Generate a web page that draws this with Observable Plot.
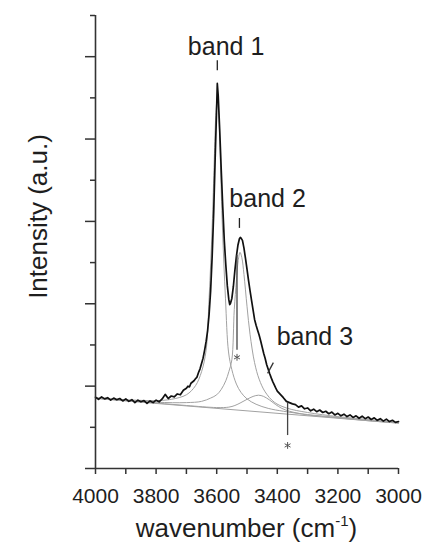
<!DOCTYPE html>
<html><head><meta charset="utf-8">
<script src="https://cdn.jsdelivr.net/npm/d3@7"></script>
<script src="https://cdn.jsdelivr.net/npm/@observablehq/plot@0.6"></script>
<style>body{margin:0;background:#fff;} svg{display:block}</style>
</head><body><div id="chart"></div>
<script>
// measured spectrum
const wavenumber = [4000,3990,3980,3970,3960,3950,3940,3930,3920,3910,3900,3890,3880,3870,3860,3850,3840,3830,3820,3810,3800,3790,3780,3770,3760,3750,3740,3730,3720,3710,
3700,3695,3690,3685,3680,3675,3670,3665,3660,3655,3650,3645,3640,3635,3630,3625,3620,3615,3610,3605,3600,3598,3595,3590,3585,3580,3575,3570,3565,3560,3557,3555,3550,3545,3540,3535,3530,3525,3522,3520,3515,3510,3505,3500,3495,3490,3485,3480,3475,3470,3465,3460,3455,3450,3445,3440,3435,3430,3425,3420,3415,3410,3405,3400,
3390,3380,3370,3360,3350,3340,3330,3320,3310,3300,3290,3280,3270,3260,3250,3240,3230,3220,3210,3200,3190,3180,3170,3160,3150,3140,3130,3120,3110,3100,3090,3080,3070,3060,3050,3040,3030,3020,3010,3000];
const intensity = [1.73,1.68,1.74,1.69,1.72,1.66,1.71,1.67,1.70,1.64,1.69,1.63,1.67,1.60,1.66,1.62,1.65,1.58,1.64,1.60,1.66,1.62,1.69,1.80,1.70,1.76,1.74,1.81,1.79,1.90,
1.95,2.00,1.98,2.07,2.10,2.13,2.18,2.22,2.33,2.42,2.55,2.68,2.87,3.08,3.35,3.75,4.32,5.15,6.20,7.55,8.80,9.35,9.05,8.20,7.24,6.35,5.54,4.95,4.44,4.10,3.98,4.00,4.13,4.42,4.81,5.15,5.42,5.58,5.61,5.60,5.54,5.35,5.10,4.84,4.57,4.32,4.08,3.85,3.62,3.48,3.36,3.24,3.10,2.95,2.80,2.67,2.52,2.41,2.30,2.20,2.11,2.03,1.95,1.88,
1.80,1.72,1.63,1.60,1.57,1.55,1.49,1.52,1.45,1.47,1.40,1.44,1.38,1.42,1.36,1.39,1.33,1.37,1.30,1.34,1.28,1.32,1.26,1.30,1.24,1.28,1.22,1.27,1.21,1.25,1.19,1.23,1.17,1.21,1.15,1.20,1.14,1.17,1.12,1.14];

// fitted components
const band1Wn  = [4000,3900,3800,3750,3700,3670,3650,3635,3625,3615,3608,3603,3598,3593,3588,3581,3571,3561,3550,3535,3520,3500,3470,3430,3380,3300,3200,3100,3000];
const band1Val = [1.72,1.67,1.65,1.68,1.79,2.01,2.35,2.87,4.15,5.86,7.50,8.57,9.01,8.57,7.49,5.84,4.12,2.83,2.40,2.05,1.85,1.69,1.56,1.46,1.39,1.31,1.24,1.17,1.11];
const band2Wn  = [4000,3800,3700,3650,3620,3600,3585,3570,3560,3550,3542,3535,3529,3523,3517,3510,3500,3490,3475,3460,3440,3410,3370,3300,3200,3100,3000];
const band2Val = [1.71,1.61,1.60,1.63,1.71,1.79,1.92,2.13,2.35,2.64,3.86,4.55,5.05,5.25,5.12,4.71,3.94,3.26,2.57,2.17,1.86,1.61,1.47,1.36,1.26,1.19,1.12];
const band3Wn  = [4000,3800,3700,3600,3560,3540,3520,3500,3480,3462,3445,3425,3405,3385,3360,3330,3300,3200,3100,3000];
const band3Val = [1.71,1.59,1.53,1.48,1.49,1.53,1.60,1.68,1.75,1.78,1.75,1.66,1.55,1.46,1.39,1.34,1.30,1.23,1.16,1.105];
const baselineWn  = [4000,3000];
const baselineVal = [1.70,1.10];

// axis ticks
const xLabelTicks = [4000,3800,3600,3400,3200,3000];
const xAllTicks = [4000,3900,3800,3700,3600,3500,3400,3300,3200,3100,3000];
const yMajorTicks = [0,2,4,6,8,10];
const yMinorTicks = [1,3,5,7,9,11];

// annotations
const bandNames = ["band 1","band 2","band 3"];
const bandNameWn = [3569,3432,3276];
const bandNameVal = [10.03,6.34,3.01];
const dashWn = [3598,3525];
const dashTop = [9.9,6.07];
const dashBottom = [9.66,5.83];
const starWn = [3533,3366];
const starTop = [5.17,1.58];
const starBottom = [2.87,0.80];
const starMark = [2.70,0.56];
const slashWn = [3432,3413];
const slashVal = [2.31,2.57];

const toPts = (ws, vs) => ws.map((w, i) => ({w, v: vs[i]}));
const spectrum = toPts(wavenumber, intensity);
const comps = [toPts(band1Wn, band1Val), toPts(band2Wn, band2Val), toPts(band3Wn, band3Val)];
const baseline = toPts(baselineWn, baselineVal);
const labels = bandNames.map((t, i) => ({t, w: bandNameWn[i], v: bandNameVal[i]}));
const dashes = dashWn.map((w, i) => ({w, y1: dashBottom[i], y2: dashTop[i]}));
const stars = starWn.map((w, i) => ({w, y1: starBottom[i], y2: starTop[i], m: starMark[i]}));
const slash = [{x1: slashWn[0], y1: slashVal[0], x2: slashWn[1], y2: slashVal[1]}];

const ink = "#1e1e1e";
const gray = "#a2a2a2";

const plot = Plot.plot({
  width: 425, height: 544,
  marginLeft: 95, marginRight: 27, marginTop: 15, marginBottom: 76,
  style: {fontFamily: "'Liberation Sans', Arial, sans-serif", background: "#fff", color: ink},
  x: {domain: [4000, 3000], axis: null},
  y: {domain: [0, 11], axis: null},
  marks: [
    Plot.line(baseline, {x: "w", y: "v", stroke: gray, strokeWidth: 1}),
    ...comps.map(c => Plot.line(c, {x: "w", y: "v", stroke: gray, strokeWidth: 1, curve: "catmull-rom"})),
    Plot.line(spectrum, {x: "w", y: "v", stroke: "#111", strokeWidth: 1.7}),
    Plot.ruleX(dashes, {x: "w", y1: "y1", y2: "y2", stroke: "#222", strokeWidth: 1.3}),
    Plot.ruleX(stars, {x: "w", y1: "y1", y2: "y2", stroke: "#444", strokeWidth: 1.3}),
    Plot.dot(stars, {x: "w", y: "m", symbol: "asterisk", r: 3.2, stroke: "#555", strokeWidth: 1}),
    Plot.link(slash, {x1: "x1", y1: "y1", x2: "x2", y2: "y2", stroke: "#333", strokeWidth: 1.3}),
    Plot.text(labels, {x: "w", y: "v", text: "t", fontSize: 25, lineAnchor: "bottom", textAnchor: "middle", fill: ink}),
    Plot.ruleY([0], {stroke: "#333", strokeWidth: 1.6}),
    Plot.ruleX([4000], {y1: 0, y2: 11, stroke: "#333", strokeWidth: 1.6}),
    Plot.axisX({ticks: xAllTicks, tickSize: 6, tickFormat: () => "", label: null, stroke: "#333", strokeWidth: 1.5}),
    Plot.axisX({ticks: xLabelTicks, tickSize: 0, tickPadding: 20, fontSize: 21, tickFormat: d => String(d), label: null, color: ink}),
    Plot.axisY({ticks: yMajorTicks, tickSize: 10, tickFormat: () => "", label: null, stroke: "#333", strokeWidth: 1.5}),
    Plot.axisY({ticks: yMinorTicks, tickSize: 5, tickFormat: () => "", label: null, stroke: "#333", strokeWidth: 1.5})
  ]
});

const svg = d3.select(plot);
const xr = plot.scale("x").range;
const yr = plot.scale("y").range;
const xt = svg.append("text")
  .attr("x", (xr[0] + xr[1]) / 2).attr("y", 537)
  .attr("text-anchor", "middle").attr("font-size", 26).attr("fill", ink)
  .attr("font-family", "'Liberation Sans', Arial, sans-serif");
xt.append("tspan").text("wavenumber (cm");
xt.append("tspan").text("-1").attr("font-size", 15).attr("dy", -11);
xt.append("tspan").text(")").attr("dy", 11);
svg.append("text")
  .attr("transform", `translate(47,${(yr[0] + yr[1]) / 2 - 25}) rotate(-90)`)
  .attr("text-anchor", "middle").attr("font-size", 26).attr("fill", ink)
  .attr("font-family", "'Liberation Sans', Arial, sans-serif")
  .text("Intensity (a.u.)");

document.getElementById("chart").appendChild(plot);
</script>
</body></html>
